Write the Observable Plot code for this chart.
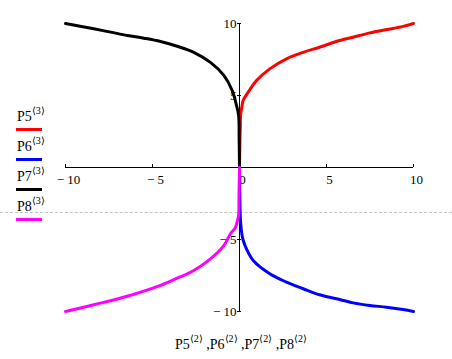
<!DOCTYPE html>
<html><head><meta charset="utf-8">
<script src="https://cdn.jsdelivr.net/npm/d3@7"></script>
<script src="https://cdn.jsdelivr.net/npm/@observablehq/plot@0.6"></script>
<style>
body{margin:0;background:#fff;}
#wrap{position:relative;width:452px;height:359px;font-family:"Liberation Serif","Times New Roman",serif;color:#000;}
#wrap svg{position:absolute;left:0;top:0;}
#wrap svg text{font-family:"Liberation Serif","Times New Roman",serif;}
.lg{position:absolute;left:17px;font-size:14px;line-height:14px;white-space:nowrap;}
.sw{position:absolute;left:16px;width:26px;height:3px;}
.sup{font-size:10px;position:relative;top:-7px;}
#dash{position:absolute;left:0;width:452px;top:212px;border-top:1px dashed #c4c4c4;}
#cap{position:absolute;top:338px;left:0;width:482px;text-align:center;font-size:14px;line-height:14px;white-space:nowrap;}
</style>
</head><body>
<div id="wrap"><div id="dash"></div></div>
<script>
// Series names and colours
const seriesNames = ["P5","P6","P7","P8"];
const seriesColors = ["#ff0000","#0000ff","#000000","#ff00ff"];

// P5 (red)
const p5x = [0, 0.02, 0.05, 0.06, 0.15, 0.21, 0.5, 0.98, 1.74, 2.7, 3.66, 4.6, 5.57, 6.53, 7.49, 8.45, 9.4, 10];
const p5y = [0, 1.5, 3.0, 3.6, 4.3, 4.65, 5.23, 6.04, 6.85, 7.55, 8.0, 8.35, 8.75, 9.05, 9.35, 9.58, 9.8, 10];
// P6 (blue)
const p6x = [0, 0.02, 0.05, 0.11, 0.2, 0.4, 0.79, 1.74, 2.7, 3.66, 4.6, 5.57, 6.53, 7.49, 8.45, 9.4, 10];
const p6y = [0, -2.0, -3.5, -4.4, -5.0, -5.65, -6.46, -7.38, -7.96, -8.42, -8.84, -9.12, -9.4, -9.58, -9.7, -9.86, -10];
// P7 (black)
const p7x = [0, -0.02, -0.05, -0.17, -0.42, -0.9, -1.67, -2.63, -3.58, -4.54, -5.5, -6.45, -7.4, -8.37, -10];
const p7y = [0, 2.0, 3.6, 4.3, 5.35, 6.4, 7.3, 8.0, 8.42, 8.75, 8.98, 9.17, 9.4, 9.63, 10];
// P8 (magenta)
const p8x = [0, -0.03, -0.05, -0.1, -0.25, -0.52, -0.9, -1.67, -2.63, -3.58, -4.54, -6.45, -8.37, -10];
const p8y = [0, -2.0, -3.3, -3.6, -4.2, -4.6, -5.42, -6.34, -7.15, -7.69, -8.19, -8.94, -9.53, -10];

// Ticks
const xTicks = [-10, -5, 0, 5, 10];
const xTickLabels = ["\u2212 10", "\u2212 5", "0", "5", "10"];
const yTicks = [-10, -5, 5, 10];
const yTickLabels = ["\u2212 10", "\u2212 5", "5", "10"];

const legendSup = "\u27E83\u27E9";
const captionSup = "\u27E82\u27E9";

const allX = [p5x, p6x, p7x, p8x];
const allY = [p5y, p6y, p7y, p8y];
const data = [];
allX.forEach((xs, s) => xs.forEach((x, i) => data.push({series: seriesNames[s], x, y: allY[s][i]})));

const font = "Liberation Serif";

const chart = Plot.plot({
  width: 452, height: 359,
  marginLeft: 65, marginRight: 39, marginTop: 23, marginBottom: 48,
  style: {background: "transparent", fontFamily: font, fontSize: "13px", overflow: "visible"},
  x: {domain: [-10, 10], axis: null},
  y: {domain: [-10, 10], axis: null},
  color: {domain: seriesNames, range: seriesColors},
  marks: [
    Plot.ruleY([0], {x1: -10, x2: 10, stroke: "#000", strokeWidth: 1}),
    Plot.ruleX([0], {y1: -10, y2: 10, stroke: "#000", strokeWidth: 1}),
    Plot.ruleX(xTicks, {x: d => d, y1: 0, y2: 0, insetTop: -3, insetBottom: 0, stroke: "#000"}),
    Plot.ruleY(yTicks, {y: d => d, x1: 0, x2: 0, insetLeft: -2, insetRight: -2, stroke: "#000"}),
    Plot.text(xTicks, {x: d => d, y: 0, text: (d, i) => xTickLabels[i], dy: 12, dx: 3, fill: "#000", fontSize: 13, fontFamily: font}),
    Plot.text(yTicks, {x: 0, y: d => d, text: (d, i) => yTickLabels[i], textAnchor: "end", dx: -3, fill: "#000", fontSize: 13, fontFamily: font}),
    Plot.line(data, {x: "x", y: "y", z: "series", stroke: "series", strokeWidth: 3, curve: "catmull-rom"})
  ]
});
const wrap = document.getElementById("wrap");
wrap.appendChild(chart);

// Legend
seriesNames.forEach((n, i) => {
  const t = document.createElement("div");
  t.className = "lg";
  t.style.top = (110 + i * 30) + "px";
  t.innerHTML = n + '<span class="sup">' + legendSup + '</span>';
  wrap.appendChild(t);
  const s = document.createElement("div");
  s.className = "sw";
  s.style.top = (128 + i * 30) + "px";
  s.style.background = seriesColors[i];
  wrap.appendChild(s);
});

// Caption
const cap = document.createElement("div");
cap.id = "cap";
cap.innerHTML = seriesNames.map(n => n + '<span class="sup">' + captionSup + '</span>').join(" ,");
wrap.appendChild(cap);
</script>
</body></html>
